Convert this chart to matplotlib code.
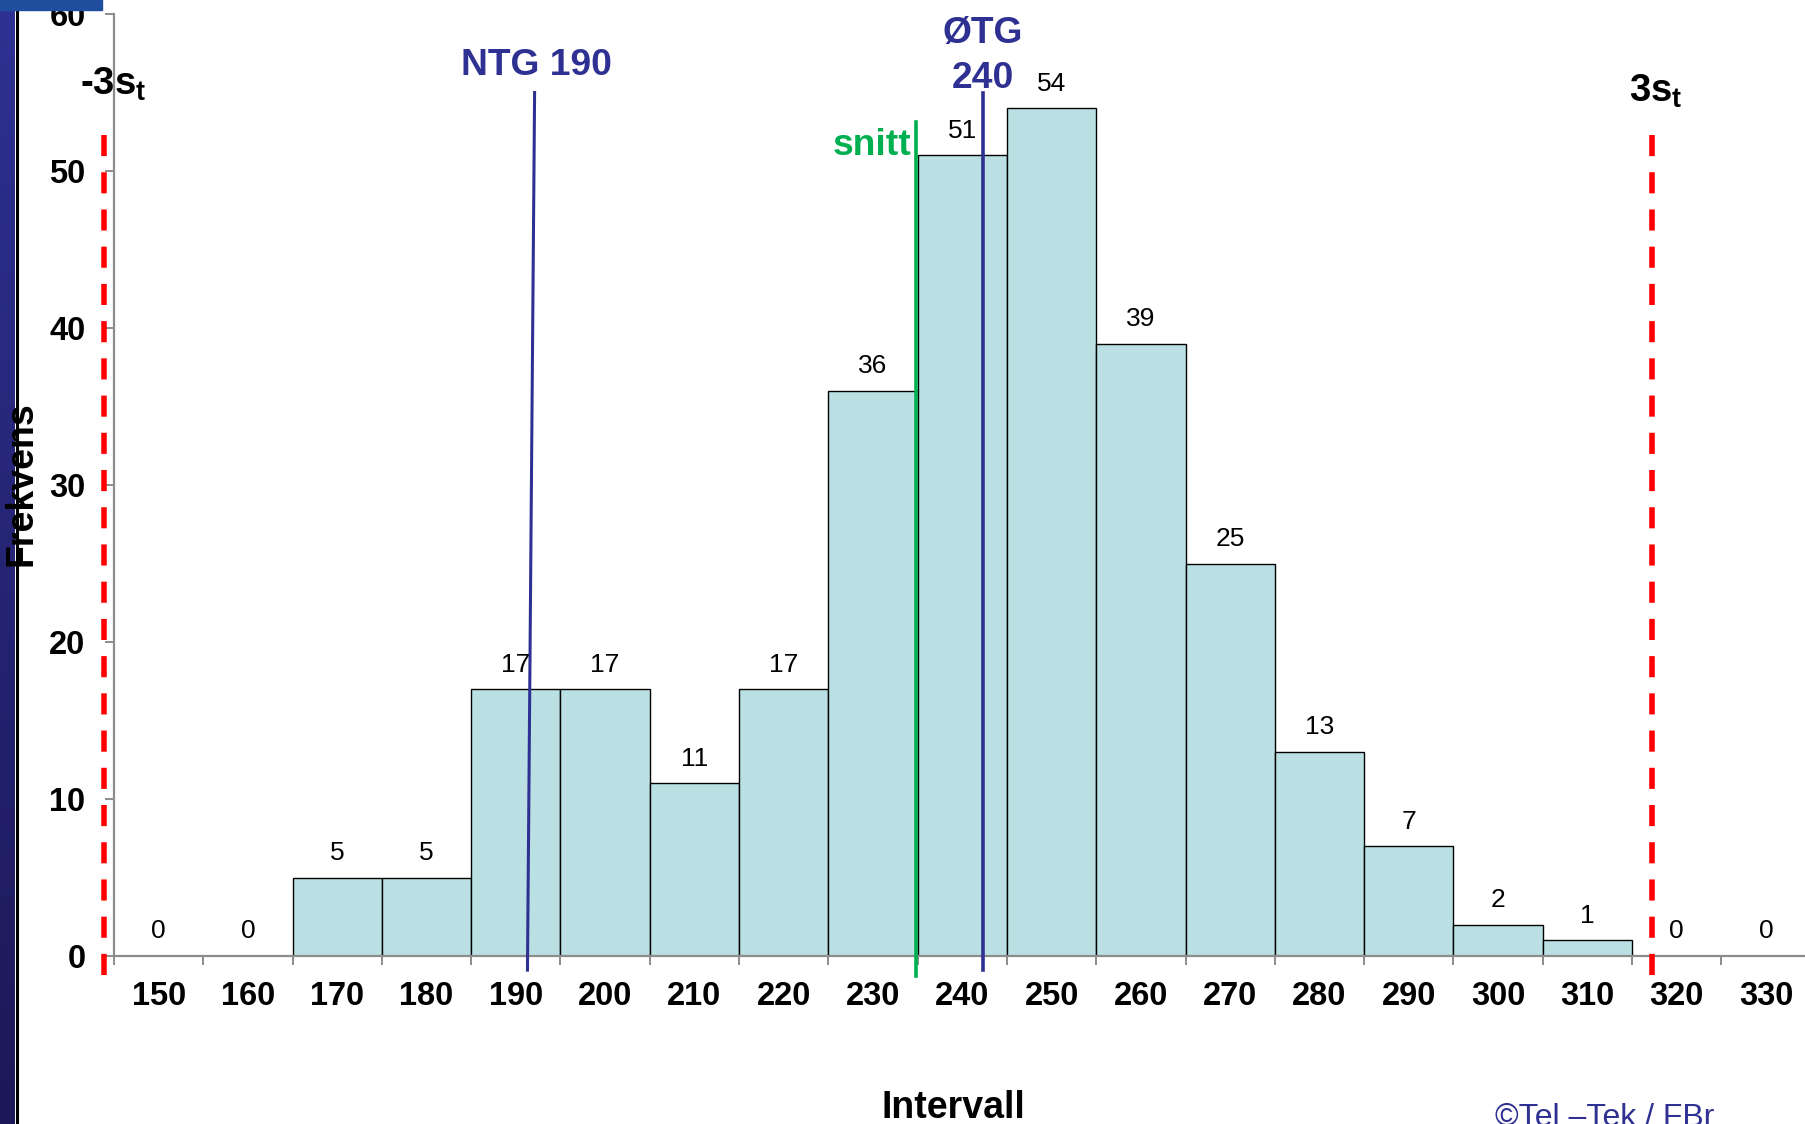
import matplotlib
matplotlib.use("Agg")
import matplotlib.pyplot as plt
import numpy as np
from matplotlib.colors import LinearSegmentedColormap

plt.rcParams['font.family'] = ['Liberation Sans', 'DejaVu Sans']
plt.rcParams['mathtext.fontset'] = 'custom'
plt.rcParams['mathtext.rm'] = 'Liberation Sans'
plt.rcParams['mathtext.bf'] = 'Liberation Sans:bold'

# ---- data ----
categories = [150, 160, 170, 180, 190, 200, 210, 220, 230, 240,
              250, 260, 270, 280, 290, 300, 310, 320, 330]
frequencies = [0, 0, 5, 5, 17, 17, 11, 17, 36, 51, 54, 39, 25, 13, 7, 2, 1, 0, 0]
mean_value = 234.8          # "snitt"
ntg_bottom, ntg_top = 191.3, 192.1   # NTG 190 line (slightly slanted)
otg_value = 242.3           # ØTG 240
minus3s_value = 143.9
plus3s_value = 317.2

W, H = 1806, 1124
fig = plt.figure(figsize=(W / 100, H / 100), dpi=100)

# left decorative band
band = fig.add_axes([0, 0, 15 / W, 1])
grad = np.linspace(0, 1, 256).reshape(-1, 1)
cmap = LinearSegmentedColormap.from_list('band', ['#2f3193', '#1c1857'])
band.imshow(grad, aspect='auto', cmap=cmap, extent=[0, 1, 0, 1], origin='upper')
band.set_axis_off()
fig.add_artist(plt.Line2D([16.5 / W, 16.5 / W], [0, 1], color='black', lw=2.2,
                          transform=fig.transFigure))
fig.add_artist(plt.Rectangle((0, 1 - 10 / H), 102 / W, 10 / H, color='#1f4e9e',
                             transform=fig.transFigure, zorder=5))

# main axes
px_per_cat = 89.3
left_px, bottom_px, top_px = 114, 956, 14
ax = fig.add_axes([left_px / W, (H - bottom_px) / H,
                   px_per_cat * 19 / W, (bottom_px - top_px) / H])
ax.patch.set_alpha(0)

def to_idx(v):
    return (v - categories[0]) / 10.0

x = np.arange(len(categories))
lws = [1.0 if f > 0 else 0 for f in frequencies]
ax.bar(x, frequencies, width=1.0, color='#bae0e3', edgecolor='black',
       linewidth=lws, zorder=2)
for xi, f in zip(x, frequencies):
    ax.annotate(str(f), (xi, f), xytext=(0, 9), textcoords='offset points',
                ha='center', va='bottom', fontsize=19, color='black')

ax.set_xlim(-0.5, 18.5)
ax.set_ylim(0, 60)
for s in ['top', 'right']:
    ax.spines[s].set_visible(False)
for s in ['left', 'bottom']:
    ax.spines[s].set_color('#8c8c8c')
    ax.spines[s].set_linewidth(1.6)
    ax.spines[s].set_zorder(3)

ax.set_xticks(x)
ax.set_xticklabels([str(c) for c in categories], fontsize=23.5, fontweight='bold')
ax.set_xticks(np.arange(-0.5, 19, 1), minor=True)
ax.tick_params(axis='x', which='major', length=0, pad=18)
ax.tick_params(axis='x', which='minor', length=6.5, width=1.4, color='#8c8c8c', direction='out')
ax.set_yticks(range(0, 61, 10))
ax.set_yticklabels([str(v) for v in range(0, 61, 10)], fontsize=23.5, fontweight='bold')
ax.tick_params(axis='y', length=6.5, width=1.4, color='#8c8c8c', pad=14)

# reference lines
red_kw = dict(color='#ff0000', lw=4, dashes=(3.8, 2.9), clip_on=False, zorder=4)
ax.plot([to_idx(minus3s_value)] * 2, [-1.2, 52.4], **red_kw)
ax.plot([to_idx(plus3s_value)] * 2, [-1.2, 52.4], **red_kw)
ax.plot([to_idx(mean_value)] * 2, [-1.3, 53.1], color='#00b050', lw=2.6,
        clip_on=False, zorder=4)
ax.plot([to_idx(ntg_bottom), to_idx(ntg_top)], [-0.9, 55.0], color='#2e3192',
        lw=2.2, clip_on=False, zorder=4)
ax.plot([to_idx(otg_value)] * 2, [-0.9, 55.0], color='#2e3192', lw=2.6,
        clip_on=False, zorder=4)

blue = '#2e3192'
big = 26.8
ax.text(4.226, 56.1, 'NTG 190', ha='center', va='baseline', fontsize=big,
        fontweight='bold', color=blue, clip_on=False)
ax.text(to_idx(otg_value), 58.15, 'ØTG', ha='center', va='baseline', fontsize=big,
        fontweight='bold', color=blue, clip_on=False)
ax.text(to_idx(otg_value), 55.29, '240', ha='center', va='baseline', fontsize=big,
        fontweight='bold', color=blue, clip_on=False)
ax.text(8.43, 51.0, 'snitt', ha='right', va='baseline', fontsize=big,
        fontweight='bold', color='#00b050', clip_on=False)
ax.text(-0.88, 54.84, r'-3s$_\mathbf{t}$', ha='left', va='baseline', fontsize=27.5,
        fontweight='bold', color='black', clip_on=False)
ax.text(16.46, 54.4, r'3s$_\mathbf{t}$', ha='left', va='baseline', fontsize=27.5,
        fontweight='bold', color='black', clip_on=False)

fig.text(953 / W, 1 - 1118 / H, 'Intervall', ha='center', va='baseline',
         fontsize=27, fontweight='bold')
fig.text(22 / W, 1 - 484 / H, 'Frekvens', ha='center', va='center', rotation=90,
         fontsize=27, fontweight='bold', zorder=10)
fig.text(1495 / W, 1 - 1126 / H, '©Tel –Tek / FBr', ha='left', va='baseline',
         fontsize=23, color=blue)

fig.savefig('out.png', dpi=100)
